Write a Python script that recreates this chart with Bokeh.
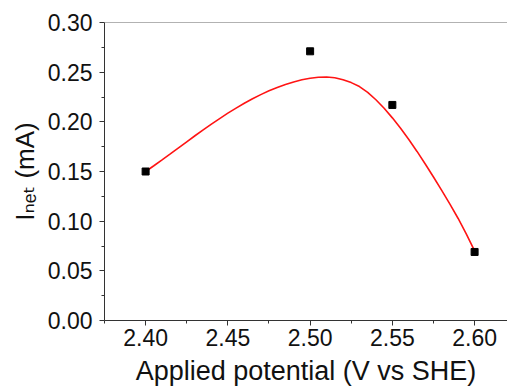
from bokeh.plotting import figure
from bokeh.models import Range1d, Span, FixedTicker, CustomJSTickFormatter
from bokeh.embed import file_html
from bokeh.resources import INLINE

# measured data points
potential = [2.40, 2.50, 2.55, 2.60]
i_net = [0.150, 0.271, 0.217, 0.069]

# smooth fitted curve
fit_x = [2.400, 2.405, 2.410, 2.415, 2.420, 2.425, 2.430, 2.435, 2.440, 2.445,
         2.450, 2.455, 2.460, 2.465, 2.470, 2.475, 2.480, 2.485, 2.490, 2.495,
         2.500, 2.505, 2.510, 2.515, 2.520, 2.525, 2.530, 2.535, 2.540, 2.545,
         2.550, 2.555, 2.560, 2.565, 2.570, 2.575, 2.580, 2.585, 2.590, 2.595,
         2.600]
fit_y = [0.1500, 0.1558, 0.1617, 0.1677, 0.1738, 0.1799, 0.1860, 0.1919,
         0.1977, 0.2033, 0.2087, 0.2138, 0.2187, 0.2232, 0.2274, 0.2312,
         0.2346, 0.2376, 0.2402, 0.2423, 0.2439, 0.2449, 0.2452, 0.2443,
         0.2424, 0.2395, 0.2355, 0.2297, 0.2222, 0.2137, 0.2040, 0.1935,
         0.1822, 0.1702, 0.1576, 0.1445, 0.1310, 0.1171, 0.1027, 0.0870,
         0.0700]

x_ticks = [2.40, 2.45, 2.50, 2.55, 2.60]
x_minor = [2.375, 2.425, 2.475, 2.525, 2.575]
y_ticks = [0.00, 0.05, 0.10, 0.15, 0.20, 0.25, 0.30]
y_minor = [0.025, 0.075, 0.125, 0.175, 0.225, 0.275]
x_label = "Applied potential (V vs SHE)"
y_label = "I\u2099\u2091\u209c (mA)"

FONT = "Liberation Sans"
TXT = "#111111"

p = figure(width=507, height=388, output_backend="svg",
           toolbar_location=None,
           x_range=Range1d(2.375, 2.62), y_range=Range1d(0.0, 0.30),
           min_border_left=104, min_border_right=0,
           min_border_top=22, min_border_bottom=67)
p.outline_line_color = None
p.background_fill_color = "white"
p.border_fill_color = "white"
p.xgrid.visible = False
p.ygrid.visible = False

p.line(fit_x, fit_y, line_color="#ff1414", line_width=1.6)
p.scatter(potential, i_net, marker="square", size=7, fill_color="black",
          line_color="black")

p.add_layout(Span(location=0.30, dimension="width", line_color="#666666",
                  line_width=1))

p.xaxis[0].ticker = FixedTicker(ticks=x_ticks, minor_ticks=x_minor)
p.yaxis[0].ticker = FixedTicker(ticks=y_ticks, minor_ticks=y_minor)
for ax in (p.xaxis[0], p.yaxis[0]):
    ax.axis_line_color = "#333333"
    ax.major_tick_line_color = "#333333"
    ax.minor_tick_line_color = "#333333"
    ax.major_tick_out = 5
    ax.major_tick_in = 0
    ax.minor_tick_out = 3
    ax.minor_tick_in = 0
    ax.major_label_text_font = FONT
    ax.major_label_text_font_size = "23px"
    ax.major_label_text_color = TXT
    ax.formatter = CustomJSTickFormatter(code="return tick.toFixed(2);")
    ax.axis_label_text_font = "Liberation Sans, DejaVu Sans"
    ax.axis_label_text_font_style = "normal"
    ax.axis_label_text_color = TXT

p.xaxis.major_label_standoff = 3
p.yaxis.major_label_standoff = 7

p.xaxis.axis_label = x_label
p.xaxis.axis_label_text_font_size = "27px"
p.xaxis.axis_label_standoff = 7

p.yaxis.axis_label = y_label
p.yaxis.axis_label_text_font_size = "26px"
p.yaxis.axis_label_standoff = 5

open("out.html", "w").write(file_html(p, INLINE))
